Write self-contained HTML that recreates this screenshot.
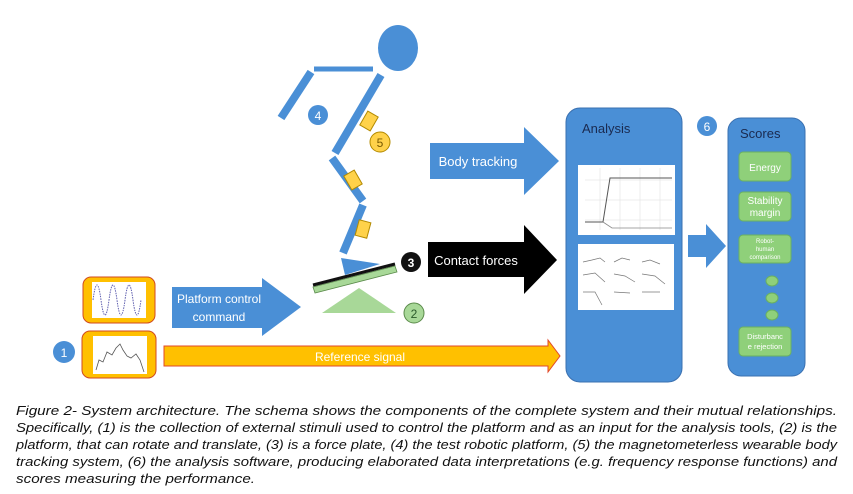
<!DOCTYPE html>
<html><head><meta charset="utf-8"><style>
html,body{margin:0;padding:0;background:#fff;}
svg{display:block;}
</style></head><body>
<svg width="853" height="494" viewBox="0 0 853 494" xmlns="http://www.w3.org/2000/svg" font-family="Liberation Sans, sans-serif">
<rect width="853" height="494" fill="#fff"/>
<!-- robot -->
<ellipse cx="398" cy="48" rx="20" ry="23" fill="#4a8fd6"/>
<g stroke="#4a8fd6" stroke-width="8" stroke-linecap="butt" fill="none">
<line x1="314" y1="69" x2="373" y2="69" stroke-width="5"/>
<line x1="311" y1="72" x2="281" y2="118"/>
<line x1="381" y1="75" x2="335" y2="153"/>
<line x1="332" y1="158" x2="363" y2="201"/>
<line x1="363" y1="205" x2="343" y2="253"/>
</g>
<polygon points="341,258 380,264 345,275" fill="#4a8fd6"/>
<g fill="#ffd24a" stroke="#b38a00" stroke-width="1">
<rect x="-6" y="-8" width="12" height="16" transform="translate(369,121) rotate(30)"/>
<rect x="-6" y="-8" width="12" height="16" transform="translate(353,180) rotate(-30)"/>
<rect x="-6" y="-8" width="12" height="16" transform="translate(363,229) rotate(15)"/>
</g>
<circle cx="318" cy="115" r="10" fill="#4a8fd6"/>
<text x="318" y="120" font-size="12" fill="#fff" text-anchor="middle">4</text>
<circle cx="380" cy="142" r="10" fill="#ffd24a" stroke="#b38a00"/>
<text x="380" y="147" font-size="12" fill="#7a5a00" text-anchor="middle">5</text>
<!-- platform -->
<polygon points="313,287 395,266 397,272 315,293" fill="#a8d898" stroke="#5a8a4a" stroke-width="0.8"/>
<line x1="313" y1="285" x2="395" y2="264" stroke="#111" stroke-width="3"/>
<polygon points="322,313 396,313 359,288" fill="#a8d898"/>
<circle cx="411" cy="262" r="10" fill="#111"/>
<text x="411" y="267" font-size="12" fill="#fff" text-anchor="middle" font-weight="bold">3</text>
<circle cx="414" cy="313" r="10" fill="#a8d898" stroke="#5a8a4a"/>
<text x="414" y="318" font-size="12" fill="#2a5a2a" text-anchor="middle">2</text>
<!-- arrows -->
<polygon points="430,143 524,143 524,127 559,161 524,195 524,179 430,179" fill="#4a8fd6"/>
<text x="478" y="166" font-size="13" fill="#fff" text-anchor="middle">Body tracking</text>
<polygon points="428,242 524,242 524,225 557,260 524,294 524,277 428,277" fill="#000"/>
<text x="476" y="265" font-size="13" fill="#fff" text-anchor="middle">Contact forces</text>
<polygon points="172,287 262,287 262,278 301,307 262,336 262,328 172,328" fill="#4a8fd6"/>
<text x="219" y="303" font-size="12" fill="#fff" text-anchor="middle">Platform control</text>
<text x="219" y="321" font-size="12" fill="#fff" text-anchor="middle">command</text>
<polygon points="164,346 548,346 548,340 560,356 548,372 548,366 164,366" fill="#ffc000" stroke="#e2482a" stroke-width="1"/>
<text x="360" y="361" font-size="12" fill="#fff" text-anchor="middle">Reference signal</text>
<!-- inputs -->
<rect x="83" y="277" width="72" height="46" rx="8" fill="#ffc000" stroke="#d04a20"/>
<rect x="92" y="282" width="54" height="36" fill="#fff"/>
<path d="M93,300 Q97,270 101,300 T109,300 T117,300 T125,300 T133,300 T141,300" fill="none" stroke="#6060b0" stroke-width="1" stroke-dasharray="1.5 1"/>
<rect x="82" y="331" width="74" height="47" rx="8" fill="#ffc000" stroke="#d04a20"/>
<rect x="93" y="336" width="54" height="38" fill="#fff"/>
<polyline points="96,370 99,360 103,362 107,352 112,355 116,348 120,344 123,350 127,356 131,358 136,354 140,360 144,372" fill="none" stroke="#555" stroke-width="0.8"/>
<circle cx="64" cy="352" r="11" fill="#4a8fd6"/>
<text x="64" y="357" font-size="12" fill="#fff" text-anchor="middle">1</text>
<!-- analysis -->
<rect x="566" y="108" width="116" height="274" rx="14" fill="#4a8fd6" stroke="#3a70b0"/>
<text x="582" y="133" font-size="13" fill="#1a2a50">Analysis</text>
<rect x="578" y="165" width="97" height="70" fill="#fff"/>
<g stroke="#ddd" stroke-width="0.5"><line x1="585" y1="180" x2="672" y2="180"/><line x1="585" y1="200" x2="672" y2="200"/><line x1="585" y1="220" x2="672" y2="220"/><line x1="600" y1="168" x2="600" y2="230"/><line x1="620" y1="168" x2="620" y2="230"/><line x1="640" y1="168" x2="640" y2="230"/><line x1="660" y1="168" x2="660" y2="230"/></g>
<polyline points="585,222 603,222 610,178 672,178" fill="none" stroke="#555" stroke-width="1"/>
<polyline points="603,222 612,228 672,228" fill="none" stroke="#888" stroke-width="0.8"/>
<rect x="578" y="244" width="96" height="66" fill="#fff"/>
<g fill="none" stroke="#777" stroke-width="0.7">
<polyline points="583,262 592,260 600,258 605,262"/><polyline points="614,262 622,258 630,260"/><polyline points="642,262 650,260 660,264"/>
<polyline points="583,275 595,273 605,282"/><polyline points="614,274 625,276 635,282"/><polyline points="642,274 655,276 665,284"/>
<polyline points="583,292 595,292 602,305"/><polyline points="614,292 630,293"/><polyline points="642,292 660,292"/>
</g>
<polygon points="688,235 706,235 706,224 726,246 706,268 706,257 688,257" fill="#4a8fd6"/>
<circle cx="707" cy="126" r="10" fill="#4a8fd6"/>
<text x="707" y="131" font-size="12" fill="#fff" text-anchor="middle">6</text>
<!-- scores -->
<rect x="728" y="118" width="77" height="258" rx="13" fill="#4a8fd6" stroke="#3a70b0"/>
<text x="740" y="138" font-size="13" fill="#1a2a50">Scores</text>
<g fill="#8fd07a" stroke="#6ab060">
<rect x="739" y="152" width="52" height="29" rx="4"/>
<rect x="739" y="192" width="52" height="29" rx="4"/>
<rect x="739" y="235" width="52" height="28" rx="4"/>
<rect x="739" y="327" width="52" height="29" rx="4"/>
<ellipse cx="772" cy="281" rx="6" ry="5"/><ellipse cx="772" cy="298" rx="6" ry="5"/><ellipse cx="772" cy="315" rx="6" ry="5"/>
</g>
<g fill="#fff" text-anchor="middle">
<text x="765" y="171" font-size="10">Energy</text>
<text x="765" y="204" font-size="10">Stability</text>
<text x="765" y="216" font-size="10">margin</text>
<text x="765" y="243" font-size="6">Robot-</text>
<text x="765" y="251" font-size="6">human</text>
<text x="765" y="259" font-size="6">comparison</text>
<text x="765" y="339" font-size="7.5">Disturbanc</text>
<text x="765" y="349" font-size="7.5">e rejection</text>
</g>
<!-- caption -->
<g font-style="italic" font-size="12.5" fill="#111">
<text x="16" y="415" textLength="821" lengthAdjust="spacingAndGlyphs">Figure 2- System architecture. The schema shows the components of the complete system and their mutual relationships.</text>
<text x="16" y="432" textLength="821" lengthAdjust="spacingAndGlyphs">Specifically, (1) is the collection of external stimuli used to control the platform and as an input for the analysis tools, (2) is the</text>
<text x="16" y="449" textLength="821" lengthAdjust="spacingAndGlyphs">platform, that can rotate and translate, (3) is a force plate, (4) the test robotic platform, (5) the magnetometerless wearable body</text>
<text x="16" y="466" textLength="821" lengthAdjust="spacingAndGlyphs">tracking system, (6) the analysis software, producing elaborated data interpretations (e.g. frequency response functions) and</text>
<text x="16" y="483" textLength="239" lengthAdjust="spacingAndGlyphs">scores measuring the performance.</text>
</g>
</svg>
</body></html>
